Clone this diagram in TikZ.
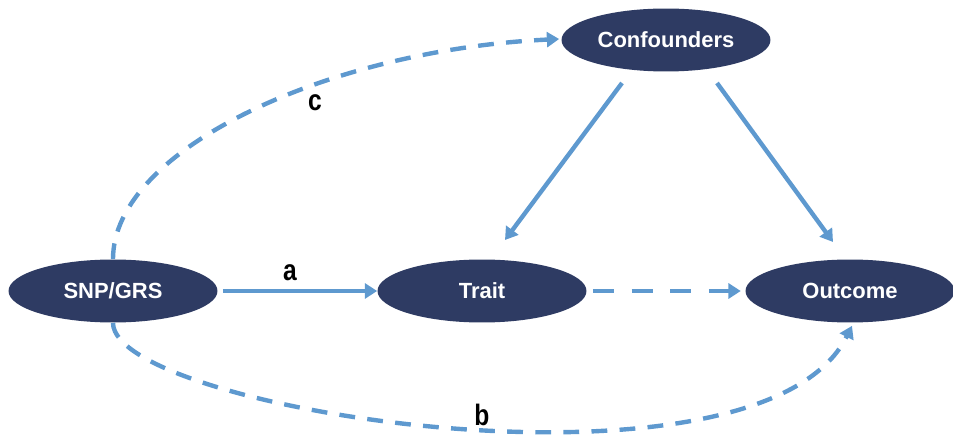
\documentclass[tikz,border=0pt]{standalone}
\usepackage{fontspec}
\setmainfont{Liberation Sans}
\usepackage{graphicx}
\usetikzlibrary{calc,shapes.geometric,arrows.meta}
\definecolor{nodenavy}{RGB}{46,59,99}
\definecolor{arrowblue}{RGB}{94,153,207}

\begin{document}
\begin{tikzpicture}[x=0.02cm, y=-0.02cm,
  var/.style={ellipse, fill=nodenavy, text=white, inner sep=0pt,
    minimum width=4.18cm, minimum height=1.26cm,
    font=\bfseries\fontsize{12.5}{14}\selectfont},
  link/.style={arrowblue, line width=2.5pt, -{Triangle[length=7pt,width=8.5pt]}},
  shortdash/.style={dash pattern=on 9pt off 7pt},
  longdash/.style={dash pattern=on 12pt off 10pt},
  lbl/.style={font=\bfseries\fontsize{14}{14}\selectfont, text=black, inner sep=0pt}]
  \useasboundingbox (0,0) rectangle (953,435);

  \node[var] (snp) at (113,291) {SNP/GRS};
  \node[var] (trait) at (482,291) {Trait};
  \node[var] (outcome) at (850,291) {Outcome};
  \node[var] (conf) at (666,40) {Confounders};

  \draw[link, shorten <=2.8pt] (snp) -- (trait);
  \draw[link, longdash, shorten <=3.5pt, shorten >=2.5pt] (trait) -- (outcome);
  \draw[link] ($(conf)+(-44,43)$) -- ($(trait)+(23,-51)$);
  \draw[link] ($(conf)+(51,43)$) -- ($(outcome)+(-17,-49)$);
  \draw[link, shortdash] (snp.north) .. controls ($(snp.north)+(0,-110)$) and ($(conf.west)+(-232,10)$) .. ($(conf.west)+(-2,-1)$);
  \draw[link, shortdash] (snp.south) .. controls ($(snp.south)+(0,88)$) and ($(outcome.south)+(-90,188)$) .. ($(outcome.south)+(2,3)$);

  \node[lbl] (la) at (290,273) {\scalebox{1}[1.2]{a}};
  \node[lbl] (lb) at (482,415) {\scalebox{1}[1.2]{b}};
  \node[lbl] (lc) at (315,103) {\scalebox{1}[1.2]{c}};
\end{tikzpicture}
\end{document}
